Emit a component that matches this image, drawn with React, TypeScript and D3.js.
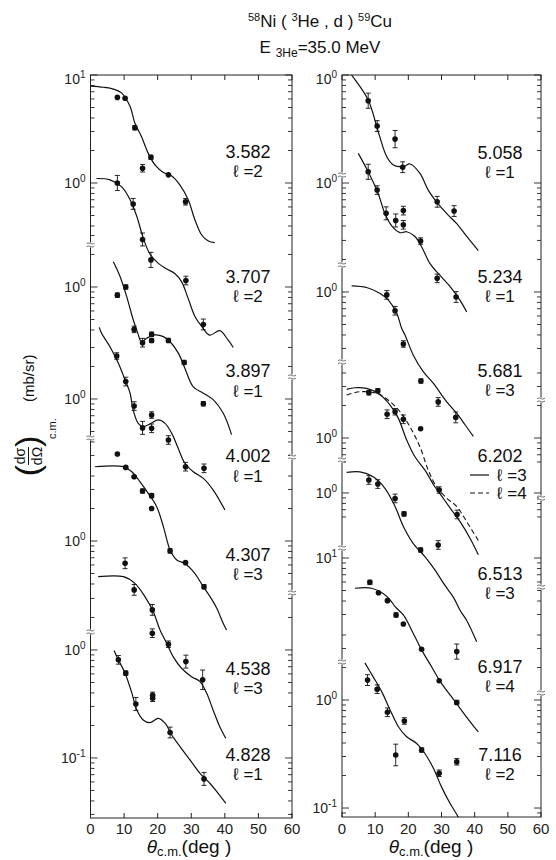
import { useEffect, useRef } from 'react';
import * as d3 from 'd3';

// [theta c.m. (deg), dsigma/dOmega (mb/sr), error bar half length (decades)]
type Pt = [number, number, number];
// DWBA curve samples: [theta, mb/sr]
type Ln = [number, number][];

// ---------- left panel ----------
const c3582: Ln = [[0, 7.9], [3.8, 7.7], [6.8, 7.4], [9.3, 6.8], [11.8, 5.1], [13.2, 3.6], [15.2, 2.68], [17.2, 1.88], [19.2, 1.47], [21.7, 1.25], [24.2, 1.16], [26.6, 0.96], [29.1, 0.7], [31.1, 0.455], [33.1, 0.33], [35.1, 0.29], [37, 0.28]];
const p3582: Pt[] = [[8, 6.2, 0], [10.3, 6.1, 0], [13.2, 3.25, 0.02], [15.5, 1.37, 0.035], [18, 1.73, 0.02], [23.2, 1.19, 0], [28.3, 0.67, 0.03]];

const c3707: Ln = [[1.8, 1.1], [5.8, 1.07], [9.3, 0.92], [11.8, 0.7], [13.8, 0.49], [15.7, 0.31], [17.7, 0.22], [20.2, 0.18], [22.7, 0.16], [25.1, 0.145], [27.1, 0.122], [29.1, 0.085], [31.1, 0.058], [33.1, 0.047], [35.5, 0.039], [38.5, 0.043], [41, 0.035], [42.5, 0.03]];
const p3707: Pt[] = [[8, 1.0, 0.07], [12.7, 0.64, 0.05], [15.5, 0.3, 0.06], [18, 0.194, 0.07], [28.4, 0.125, 0.04], [33.6, 0.049, 0.05]];

const c3897: Ln = [[6.8, 1.71], [8.8, 1.25], [10.8, 0.81], [12.7, 0.5], [14, 0.38], [15.2, 0.31], [16.7, 0.335], [19.2, 0.36], [21.7, 0.347], [23.7, 0.311], [26.2, 0.243], [28.1, 0.177], [30.6, 0.119], [33.6, 0.104], [36.6, 0.09], [39.5, 0.068], [42, 0.043]];
const p3897: Pt[] = [[8, 0.84, 0.02], [10.5, 1.0, 0.02], [13, 0.405, 0.03], [15.5, 0.305, 0.04], [18.2, 0.365, 0.02], [18.2, 0.32, 0.02], [23.2, 0.32, 0.02], [27.9, 0.2, 0.02], [33.6, 0.083, 0.02]];

const c4002: Ln = [[2.6, 4.6], [3.3, 4.06], [5.8, 3.05], [8.3, 2.14], [10.3, 1.5], [11.8, 1.13], [12.7, 0.79], [14.2, 0.595], [15.7, 0.555], [17.7, 0.587], [20.2, 0.64], [22.2, 0.595], [24.2, 0.48], [26.1, 0.35], [28.1, 0.254], [30.6, 0.212], [33.6, 0.184], [36.5, 0.144], [40, 0.094]];
const p4002: Pt[] = [[7.8, 2.5, 0.03], [10.5, 1.45, 0.04], [13, 0.86, 0.04], [15.5, 0.54, 0.06], [18.2, 0.71, 0.03], [18.2, 0.535, 0.04], [23.2, 0.417, 0.04], [28.3, 0.236, 0.04], [33.8, 0.228, 0.04]];

const c4307: Ln = [[1.3, 4.87], [9.8, 4.87], [12.3, 4.38], [14.7, 3.55], [17.2, 2.76], [19.7, 2.08], [21.7, 1.36], [23.7, 0.825], [25.7, 0.667], [28.1, 0.62], [31.1, 0.5], [33.6, 0.377], [35.6, 0.305], [37.6, 0.238], [39.5, 0.173], [40.5, 0.15]];
const p4307: Pt[] = [[8, 6.4, 0], [10.5, 4.8, 0.01], [13, 3.94, 0.01], [15.5, 2.9, 0.02], [18.2, 2.63, 0.02], [18.2, 2.0, 0], [23.7, 0.81, 0.02], [28.3, 0.63, 0.01], [33.8, 0.377, 0.02]];

const c4538: Ln = [[2.3, 4.77], [9.8, 4.77], [13.2, 4.14], [16.2, 3.12], [18.7, 2.26], [20.7, 1.53], [22.7, 1.15], [24.6, 0.867], [27.1, 0.677], [30.1, 0.566], [32.6, 0.509], [34.6, 0.397], [36.5, 0.278], [38.5, 0.195], [40.3, 0.152]];
const p4538: Pt[] = [[10.3, 6.35, 0.05], [13, 3.6, 0.05], [18.4, 2.35, 0.05], [18.4, 1.43, 0.04], [23.2, 1.13, 0.03], [28.4, 0.78, 0.06], [33.4, 0.53, 0.09]];

const c4828: Ln = [[7, 0.99], [8.3, 0.81], [10.3, 0.61], [12.3, 0.4], [13.8, 0.278], [15.7, 0.225], [17.7, 0.212], [20.2, 0.233], [22.2, 0.21], [24.2, 0.163], [26.6, 0.128], [29.6, 0.096], [32.6, 0.072], [35.6, 0.058], [38, 0.047], [40.3, 0.038]];
const p4828: Pt[] = [[8.3, 0.81, 0.04], [10.5, 0.61, 0.02], [13.5, 0.316, 0.06], [18.5, 0.38, 0.03], [18.5, 0.357, 0.03], [23.7, 0.172, 0.05], [33.8, 0.064, 0.06]];

// ---------- right panel ----------
const c5058: Ln = [[1.5, 1.15], [2.9, 1.0], [7.9, 0.587], [10.9, 0.3], [13.5, 0.175], [15.5, 0.147], [18.5, 0.142], [20.5, 0.15], [23.5, 0.123], [26, 0.086], [28.5, 0.067], [31.6, 0.052], [34.6, 0.042], [37.6, 0.032], [41.1, 0.0237]];
const p5058: Pt[] = [[7.9, 0.578, 0.07], [10.6, 0.337, 0.05], [16, 0.255, 0.08], [18.3, 0.14, 0.05], [28.7, 0.067, 0.05], [33.8, 0.055, 0.05]];

const c5234: Ln = [[4.9, 1.88], [7.9, 1.27], [10.9, 0.8], [12.9, 0.524], [15, 0.4], [17.5, 0.347], [19.5, 0.354], [22, 0.32], [24, 0.257], [26.5, 0.18], [29.5, 0.14], [32.6, 0.11], [35.6, 0.082], [37.6, 0.064]];
const p5234: Pt[] = [[7.9, 1.27, 0.07], [10.6, 0.86, 0.04], [13.3, 0.524, 0.06], [16.2, 0.45, 0.06], [18.5, 0.555, 0.04], [18.5, 0.41, 0.04], [23.7, 0.29, 0.03], [28.7, 0.131, 0.04], [34.4, 0.088, 0.05]];

const c5681: Ln = [[2.9, 1.14], [7.4, 1.1], [11.5, 0.97], [14, 0.84], [16.5, 0.635], [18, 0.46], [19, 0.4], [21.5, 0.26], [24.5, 0.183], [27.5, 0.143], [31.6, 0.096], [34.6, 0.075], [37.1, 0.059], [39.6, 0.046]];
const p5681: Pt[] = [[13.5, 0.94, 0.04], [16, 0.67, 0.04], [18.5, 0.33, 0.03], [23.8, 0.15, 0.02], [29, 0.096, 0.04], [34.3, 0.069, 0.05]];

const c6202l3: Ln = [[1.4, 2.82], [3.9, 2.92], [7.4, 2.88], [10.9, 2.59], [14.5, 2.02], [17, 1.52], [19.5, 0.96], [22, 0.67], [25, 0.505], [28, 0.354], [30.5, 0.277], [33, 0.216], [35.6, 0.168], [38.6, 0.118], [41.1, 0.083]];
const c6202l4: Ln = [[1.4, 2.5], [5.4, 2.68], [10.5, 2.59], [14.5, 2.17], [17.5, 1.75], [20.5, 1.27], [23.5, 0.83], [26, 0.505], [28.5, 0.354], [31.6, 0.277], [34.6, 0.232], [37.6, 0.168], [41.6, 0.106]];
const p6202: Pt[] = [[8.1, 2.63, 0.02], [10.8, 2.74, 0.02], [13.6, 1.66, 0.04], [16, 1.75, 0.03], [18.5, 1.49, 0.04], [23.7, 1.22, 0], [29.3, 0.33, 0.03], [34.7, 0.196, 0.04]];

const c6513: Ln = [[1.4, 1.55], [5.4, 1.57], [9.4, 1.41], [13, 1.1], [16, 0.75], [18.5, 0.49], [21.5, 0.34], [25, 0.257], [28, 0.194], [31, 0.14], [33.6, 0.108], [35.6, 0.082], [37.6, 0.066], [40.6, 0.042]];
const p6513: Pt[] = [[8.1, 1.32, 0.04], [10.8, 1.21, 0.04], [16, 0.89, 0.04], [18.7, 0.64, 0.02], [23.7, 0.297, 0.02], [29, 0.33, 0.04]];

const c6917: Ln = [[3.9, 5.25], [8.9, 5.25], [12.4, 4.7], [14.5, 4.1], [16, 3.54], [18.5, 2.97], [21.5, 2.0], [24, 1.41], [27, 0.985], [30, 0.69], [33, 0.52], [36, 0.39], [39, 0.295], [41.1, 0.246]];
const p6917: Pt[] = [[8.4, 5.95, 0.02], [11, 4.77, 0.01], [13.7, 4.03, 0.01], [16.3, 2.97, 0.02], [18.5, 2.45, 0], [24, 1.43, 0], [29.3, 0.73, 0], [34.6, 0.46, 0.02], [34.6, 1.36, 0.07]];

const c7116: Ln = [[6.9, 2.21], [9.4, 1.64], [12, 1.19], [14.5, 0.81], [17, 0.566], [19.5, 0.457], [22.5, 0.396], [25, 0.32], [27.6, 0.232], [30, 0.157], [32.6, 0.11], [35.1, 0.082], [37, 0.06]];
const p7116: Pt[] = [[7.7, 1.53, 0.05], [10.6, 1.26, 0.04], [13.7, 0.77, 0.04], [16.2, 0.31, 0.1], [18.8, 0.64, 0.03], [24, 0.345, 0.02], [29.3, 0.21, 0.03], [34.6, 0.268, 0.03]];

// state labels, l values, vertical offsets (decades) of each set
const leftStates = ['3.582', '3.707', '3.897', '4.002', '4.307', '4.538', '4.828'];
const leftL = ['2', '2', '1', '1', '3', '3', '1'];
const leftShift = [4.324, 4.324, 3.361, 2.324, 1.009, 0, 0];
const leftLines = [c3582, c3707, c3897, c4002, c4307, c4538, c4828];
const leftPts = [p3582, p3707, p3897, p4002, p4307, p4538, p4828];

const rightStates = ['5.058', '5.234', '5.681', '6.202', '6.513', '6.917', '7.116'];
const rightL = ['1', '1', '3', '', '3', '4', '2'];
const rightShift = [5.787, 4.787, 3.778, 2.426, 1.917, 0.315, 0];
const rightLines = [c5058, c5234, c5681, c6202l3, c6513, c6917, c7116];
const rightPts = [p5058, p5234, p5681, p6202, p6513, p6917, p7116];

// decade labels on y axis: [position in decades, exponent]
const leftDecades: [number, string][] = [[5.324, '1'], [4.324, '0'], [3.361, '0'], [2.324, '0'], [1.009, '0'], [0, '0'], [-1, '-1']];
const rightDecades: [number, string][] = [[5.787, '0'], [4.787, '0'], [3.778, '0'], [2.426, '0'], [1.917, '0'], [1.315, '1'], [0, '0'], [-1, '-1']];

// axis breaks (decades) on left / right frame edge
const leftBreaksL = [3.75, 1.963, 0.167];
const leftBreaksR = [2.528, 1.787, 0.528];
const rightBreaksL = [4.861, 4.028, 3.13, 2.222, 1.407, 0.352];
const rightBreaksR = [2.778, 1.87, 1.046, 0.065];

const xTicks = [0, 10, 20, 30, 40, 50, 60];

// label baselines
const leftLabelY = [[160, 175], [284, 301], [377, 397], [462, 482], [563, 578], [675, 693], [762, 778]];
const rightLabelY = [[160, 177], [284, 300], [378, 395], [462, 0], [582, 597], [675, 690], [762, 778]];

const FONT = 'Liberation Sans, Arial, sans-serif';

export default function App() {
  const ref = useRef<SVGSVGElement>(null);

  useEffect(() => {
    const svg = d3.select(ref.current);
    svg.selectAll('*').remove();

    const panels = [
      { x0: 90.5, x1: 292, yTop: 75, yBot: 818, lo: -1.556, hi: 5.324, states: leftStates, ls: leftL, shift: leftShift, lines: leftLines, pts: leftPts, decades: leftDecades, bl: leftBreaksL, br: leftBreaksR, labY: leftLabelY, labX: 248, title: 189 },
      { x0: 342, x1: 541, yTop: 75, yBot: 817, lo: -1.083, hi: 5.787, states: rightStates, ls: rightL, shift: rightShift, lines: rightLines, pts: rightPts, decades: rightDecades, bl: rightBreaksL, br: rightBreaksR, labY: rightLabelY, labX: 500, title: 431 },
    ];

    panels.forEach((p, pi) => {
      const x = d3.scaleLinear().domain([0, 60]).range([p.x0, p.x1]);
      const y = d3.scaleLog().domain([10 ** p.lo, 10 ** p.hi]).range([p.yBot, p.yTop]);
      const yu = (u: number) => y(10 ** u);
      const g = svg.append('g');

      // clip
      const cid = 'clip' + pi;
      svg.append('defs').append('clipPath').attr('id', cid)
        .append('rect').attr('x', p.x0).attr('y', p.yTop).attr('width', p.x1 - p.x0).attr('height', p.yBot - p.yTop);

      // frame
      g.append('rect').attr('x', p.x0).attr('y', p.yTop).attr('width', p.x1 - p.x0).attr('height', p.yBot - p.yTop)
        .attr('fill', 'none').attr('stroke', '#222').attr('stroke-width', 1);

      // x ticks
      xTicks.forEach((t) => {
        g.append('line').attr('x1', x(t)).attr('x2', x(t)).attr('y1', p.yTop).attr('y2', p.yTop + 5).attr('stroke', '#222');
        g.append('line').attr('x1', x(t)).attr('x2', x(t)).attr('y1', p.yBot).attr('y2', p.yBot - 5).attr('stroke', '#222');
        g.append('text').attr('x', x(t)).attr('y', 834).attr('text-anchor', 'middle')
          .attr('font-size', 15).attr('font-family', FONT).attr('fill', '#222').text(String(t));
      });

      // y ticks, aligned to the nearest decade label
      const fam = p.decades.map((d) => d[0]);
      const ticks: { u: number; major: boolean }[] = [];
      fam.forEach((s) => {
        for (let n = -1; n <= 1; n++) for (let k = 1; k <= 9; k++) {
          const u = s + n + Math.log10(k);
          if (u < p.lo || u > p.hi) continue;
          const near = fam.reduce((a, b) => (Math.abs(b - u) < Math.abs(a - u) ? b : a));
          if (near !== s) continue;
          ticks.push({ u, major: k === 1 });
        }
      });
      ticks.forEach((t) => {
        const yy = yu(t.u);
        const len = t.major ? 7 : 4;
        g.append('line').attr('x1', p.x0).attr('x2', p.x0 + len).attr('y1', yy).attr('y2', yy).attr('stroke', '#222').attr('stroke-width', 0.9);
        g.append('line').attr('x1', p.x1).attr('x2', p.x1 - len).attr('y1', yy).attr('y2', yy).attr('stroke', '#222').attr('stroke-width', 0.9);
      });

      // decade labels
      p.decades.forEach(([u, e]) => {
        const yy = Math.max(yu(u) + 5, 84);
        const t = g.append('text').attr('x', p.x0 - 5).attr('y', yy).attr('text-anchor', 'end')
          .attr('font-size', 14).attr('font-family', FONT).attr('fill', '#222');
        t.append('tspan').text('10');
        t.append('tspan').attr('font-size', 10).attr('dy', -6).text(e);
      });

      // axis breaks
      const brk = (bx: number, u: number) => {
        const by = yu(u);
        g.append('rect').attr('x', bx - 2).attr('y', by - 2.5).attr('width', 4).attr('height', 5).attr('fill', '#fff');
        g.append('path').attr('d', `M${bx - 4},${by - 1} c2,-3 5,2 8,-1 M${bx - 4},${by + 2} c2,-3 5,2 8,-1`)
          .attr('fill', 'none').attr('stroke', '#444').attr('stroke-width', 0.8);
      };
      p.bl.forEach((u) => brk(p.x0, u));
      p.br.forEach((u) => brk(p.x1, u));

      // curves & data
      const plot = g.append('g').attr('clip-path', `url(#${cid})`);
      const mk = (s: number) => d3.line<[number, number]>()
        .x((d) => x(d[0])).y((d) => y(d[1] * 10 ** s))
        .curve(d3.curveCatmullRom.alpha(0.5));

      p.lines.forEach((ln, i) => {
        plot.append('path').attr('d', mk(p.shift[i])(ln) || '')
          .attr('fill', 'none').attr('stroke', '#111').attr('stroke-width', 1.2);
      });
      if (pi === 1) {
        plot.append('path').attr('d', mk(p.shift[3])(c6202l4) || '')
          .attr('fill', 'none').attr('stroke', '#111').attr('stroke-width', 1.1).attr('stroke-dasharray', '5,3');
      }

      p.pts.forEach((pts, i) => {
        const s = 10 ** p.shift[i];
        pts.forEach(([th, v, e]) => {
          const px = x(th);
          const py = y(v * s);
          if (e > 0) {
            const ya = y(v * s * 10 ** e);
            const yb = y(v * s / 10 ** e);
            plot.append('line').attr('x1', px).attr('x2', px).attr('y1', ya).attr('y2', yb).attr('stroke', '#111').attr('stroke-width', 0.9);
            plot.append('line').attr('x1', px - 2.5).attr('x2', px + 2.5).attr('y1', ya).attr('y2', ya).attr('stroke', '#111').attr('stroke-width', 0.9);
            plot.append('line').attr('x1', px - 2.5).attr('x2', px + 2.5).attr('y1', yb).attr('y2', yb).attr('stroke', '#111').attr('stroke-width', 0.9);
          }
          plot.append('circle').attr('cx', px).attr('cy', py).attr('r', 2.8).attr('fill', '#111');
        });
      });

      // state labels
      p.states.forEach((st, i) => {
        const [y1, y2] = p.labY[i];
        let b1 = y1;
        let b2 = y2;
        if (y2 && y2 - y1 < 19) {
          const m = (y1 + y2) / 2;
          b1 = m - 9.5;
          b2 = m + 9.5;
        }
        g.append('text').attr('x', p.labX).attr('y', b1).attr('text-anchor', 'middle')
          .attr('font-size', 18).attr('font-family', FONT).attr('fill', '#111').text(st);
        if (p.ls[i]) {
          g.append('text').attr('x', p.labX).attr('y', b2).attr('text-anchor', 'middle')
            .attr('font-size', 17).attr('font-family', FONT).attr('fill', '#111').text('ℓ =' + p.ls[i]);
        }
      });

      // axis title
      const xt = g.append('text').attr('x', p.title).attr('y', 853).attr('text-anchor', 'middle')
        .attr('font-size', 19).attr('font-family', FONT).attr('fill', '#111');
      xt.append('tspan').attr('font-style', 'italic').text('θ');
      xt.append('tspan').attr('font-size', 13).attr('dy', 3).text('c.m.');
      xt.append('tspan').attr('dy', -3).text('(deg )');
    });

    // legend for 6.202
    const lg = svg.append('g').attr('font-family', FONT).attr('font-size', 17).attr('fill', '#111');
    lg.append('line').attr('x1', 470).attr('x2', 489).attr('y1', 475).attr('y2', 475).attr('stroke', '#111').attr('stroke-width', 1.2);
    lg.append('text').attr('x', 497).attr('y', 481).text('ℓ =3');
    lg.append('line').attr('x1', 470).attr('x2', 489).attr('y1', 493).attr('y2', 493).attr('stroke', '#111').attr('stroke-width', 1.1).attr('stroke-dasharray', '5,3');
    lg.append('text').attr('x', 497).attr('y', 499).text('ℓ =4');

    // title
    const t1 = svg.append('text').attr('x', 320).attr('y', 27).attr('text-anchor', 'middle')
      .attr('font-size', 17).attr('font-family', FONT).attr('fill', '#111');
    t1.append('tspan').attr('font-size', 11).attr('dy', -6).text('58');
    t1.append('tspan').attr('dy', 6).text('Ni ( ');
    t1.append('tspan').attr('font-size', 11).attr('dy', -6).text('3');
    t1.append('tspan').attr('dy', 6).text('He , d ) ');
    t1.append('tspan').attr('font-size', 11).attr('dy', -6).text('59');
    t1.append('tspan').attr('dy', 6).text('Cu');

    const t2 = svg.append('text').attr('x', 320).attr('y', 53).attr('text-anchor', 'middle')
      .attr('font-size', 17).attr('font-family', FONT).attr('fill', '#111');
    t2.append('tspan').text('E ');
    t2.append('tspan').attr('font-size', 12).attr('dy', 4).text('3He');
    t2.append('tspan').attr('dy', -4).text('=35.0  MeV');

    // y axis title (rotated)
    const yl = svg.append('g').attr('transform', 'translate(28,456) rotate(-90)')
      .attr('font-family', FONT).attr('fill', '#111');
    yl.append('text').attr('x', 0).attr('y', -3).attr('text-anchor', 'middle').attr('font-size', 14).text('dσ');
    yl.append('line').attr('x1', -9).attr('x2', 9).attr('y1', 0.5).attr('y2', 0.5).attr('stroke', '#111').attr('stroke-width', 1);
    yl.append('text').attr('x', 0).attr('y', 14).attr('text-anchor', 'middle').attr('font-size', 14).text('dΩ');
    yl.append('text').attr('x', -9).attr('y', 11).attr('text-anchor', 'end').attr('font-size', 34).attr('font-weight', 300).text('(');
    yl.append('text').attr('x', 9).attr('y', 11).attr('text-anchor', 'start').attr('font-size', 34).attr('font-weight', 300).text(')');
    yl.append('text').attr('x', 17).attr('y', 28).attr('font-size', 11).text('c.m.');
    yl.append('text').attr('x', 54).attr('y', 6).attr('font-size', 15).text('(mb/sr)');
  }, []);

  return (
    <div style={{ position: 'absolute', left: 0, top: 0, background: '#fff' }}>
      <svg ref={ref} width={556} height={860} style={{ display: 'block' }} />
    </div>
  );
}
